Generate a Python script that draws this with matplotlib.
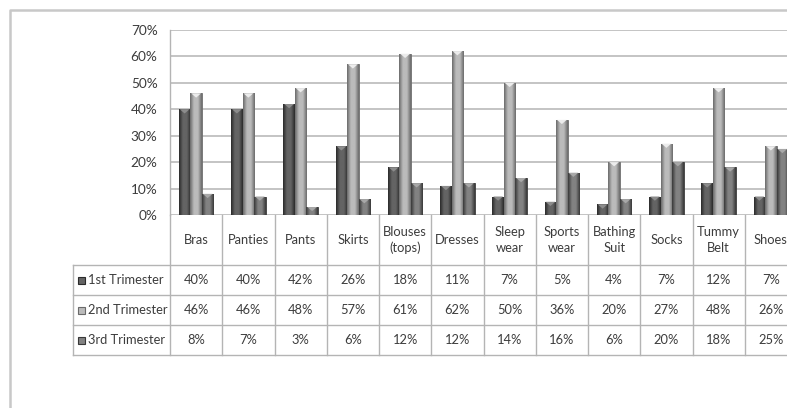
import numpy as np
import matplotlib
matplotlib.use("Agg")
import matplotlib.pyplot as plt
from matplotlib.patches import Polygon, Rectangle
from matplotlib.lines import Line2D
from matplotlib.colors import LinearSegmentedColormap
import matplotlib.transforms as mtransforms

# Chart data
categories = ["Bras", "Panties", "Pants", "Skirts", "Blouses\n(tops)", "Dresses",
              "Sleep\nwear", "Sports\nwear", "Bathing\nSuit", "Socks", "Tummy\nBelt", "Shoes"]
series_names = ["1st Trimester", "2nd Trimester", "3rd Trimester"]
first_trimester = [40, 40, 42, 26, 18, 11, 7, 5, 4, 7, 12, 7]
second_trimester = [46, 46, 48, 57, 61, 62, 50, 36, 20, 27, 48, 26]
third_trimester = [8, 7, 3, 6, 12, 12, 14, 16, 6, 20, 18, 25]
y_ticks = [0, 10, 20, 30, 40, 50, 60, 70]

# Styling (edge colour, centre colour, bevel colour) per series
SHADES = [("#2a2a2a", "#646464", "#8c8c8c"),
          ("#6a6a6a", "#bbbbbb", "#ececec"),
          ("#383838", "#828282", "#a8a8a8")]
TEXT_COLOR = "#3c3c3c"
LINE_COLOR = "#b4b4b4"
FONT = ["Lato", "DejaVu Sans"]
FS = 9.3

W, H = 787, 408
plt.rcParams['font.family'] = FONT


def fx(px):
    return px / W


def fy(py):
    return (H - py) / H


fig = plt.figure(figsize=(W / 100, H / 100), dpi=100)
fig.patch.set_facecolor("white")

# plot area runs a little past the right edge, as in the cropped original
ax = fig.add_axes([fx(170), fy(215), fx(797) - fx(170), fy(30) - fy(215)])

x = np.arange(len(categories))
bar_w = 0.22
offsets = [-bar_w, 0, bar_w]
all_series = [first_trimester, second_trimester, third_trimester]

for values, off, (edge, mid, bevel) in zip(all_series, offsets, SHADES):
    cmap = LinearSegmentedColormap.from_list("shade", [edge, mid, mid, edge])
    bars = ax.bar(x + off, values, bar_w, color=mid, edgecolor=edge, linewidth=0.6, zorder=3)
    grad = np.linspace(0, 1, 64).reshape(1, -1)
    for b in bars:
        x0, w, h = b.get_x(), b.get_width(), b.get_height()
        im = ax.imshow(grad, cmap=cmap, extent=[x0, x0 + w, 0, h], aspect="auto",
                       origin="lower", zorder=3.5, interpolation="bilinear")
        im.set_clip_path(b)
        depth = min(1.6, h * 0.5)
        tri = Polygon([[x0 + w * 0.08, h], [x0 + w * 0.92, h], [x0 + w * 0.5, h - depth]],
                      closed=True, facecolor=bevel, edgecolor="none", zorder=4)
        ax.add_patch(tri)

ax.set_xlim(-0.5, len(categories) - 0.5)
ax.set_ylim(0, 70)
ax.set_yticks(y_ticks)
ax.set_yticklabels([f"{v}%" for v in y_ticks], fontsize=FS + 0.5, color=TEXT_COLOR)
ax.set_xticks([])
ax.tick_params(axis="y", length=0, pad=9)
ax.grid(axis="y", color="#c4c4c4", linewidth=1.4, zorder=0)
ax.set_axisbelow(True)
for side in ["top", "right", "bottom"]:
    ax.spines[side].set_visible(False)
ax.spines["left"].set_color(LINE_COLOR)
ax.spines["left"].set_linewidth(1.0)

# data table below the plot
blend = mtransforms.blended_transform_factory(ax.transData, fig.transFigure)
row_lines = [265, 295, 325, 355]
for i in range(len(categories) + 1):
    ax.add_line(Line2D([i - 0.5, i - 0.5], [fy(215), fy(355)], transform=blend,
                       color=LINE_COLOR, linewidth=1.0, clip_on=False))
for py in row_lines:
    fig.add_artist(Line2D([fx(73), 1.0], [fy(py), fy(py)], color=LINE_COLOR, linewidth=1.0))
fig.add_artist(Line2D([fx(73), fx(73)], [fy(265), fy(355)], color=LINE_COLOR, linewidth=1.0))

for i, cat in enumerate(categories):
    ax.text(i, fy(240), cat, transform=blend, ha="center", va="center",
            fontsize=FS, color=TEXT_COLOR, linespacing=1.3, clip_on=False)

row_centers = [280, 310, 340]
for name, values, (edge, mid, bevel), py in zip(series_names, all_series, SHADES, row_centers):
    fig.add_artist(Rectangle((fx(78), fy(py + 3.5)), fx(7), fy(py - 3.5) - fy(py + 3.5),
                             facecolor=mid, edgecolor=edge, linewidth=0.8))
    fig.text(fx(88), fy(py), name, ha="left", va="center", fontsize=FS, color=TEXT_COLOR)
    for i, v in enumerate(values):
        ax.text(i, fy(py), f"{v}%", transform=blend, ha="center", va="center",
                fontsize=FS, color=TEXT_COLOR, clip_on=False)

# outer chart border (top and left visible in the crop)
fig.add_artist(Line2D([fx(10), fx(10), 1.0], [0.0, fy(10), fy(10)],
                      color="#c8c8c8", linewidth=1.8))

fig.savefig("out.png", dpi=100)
